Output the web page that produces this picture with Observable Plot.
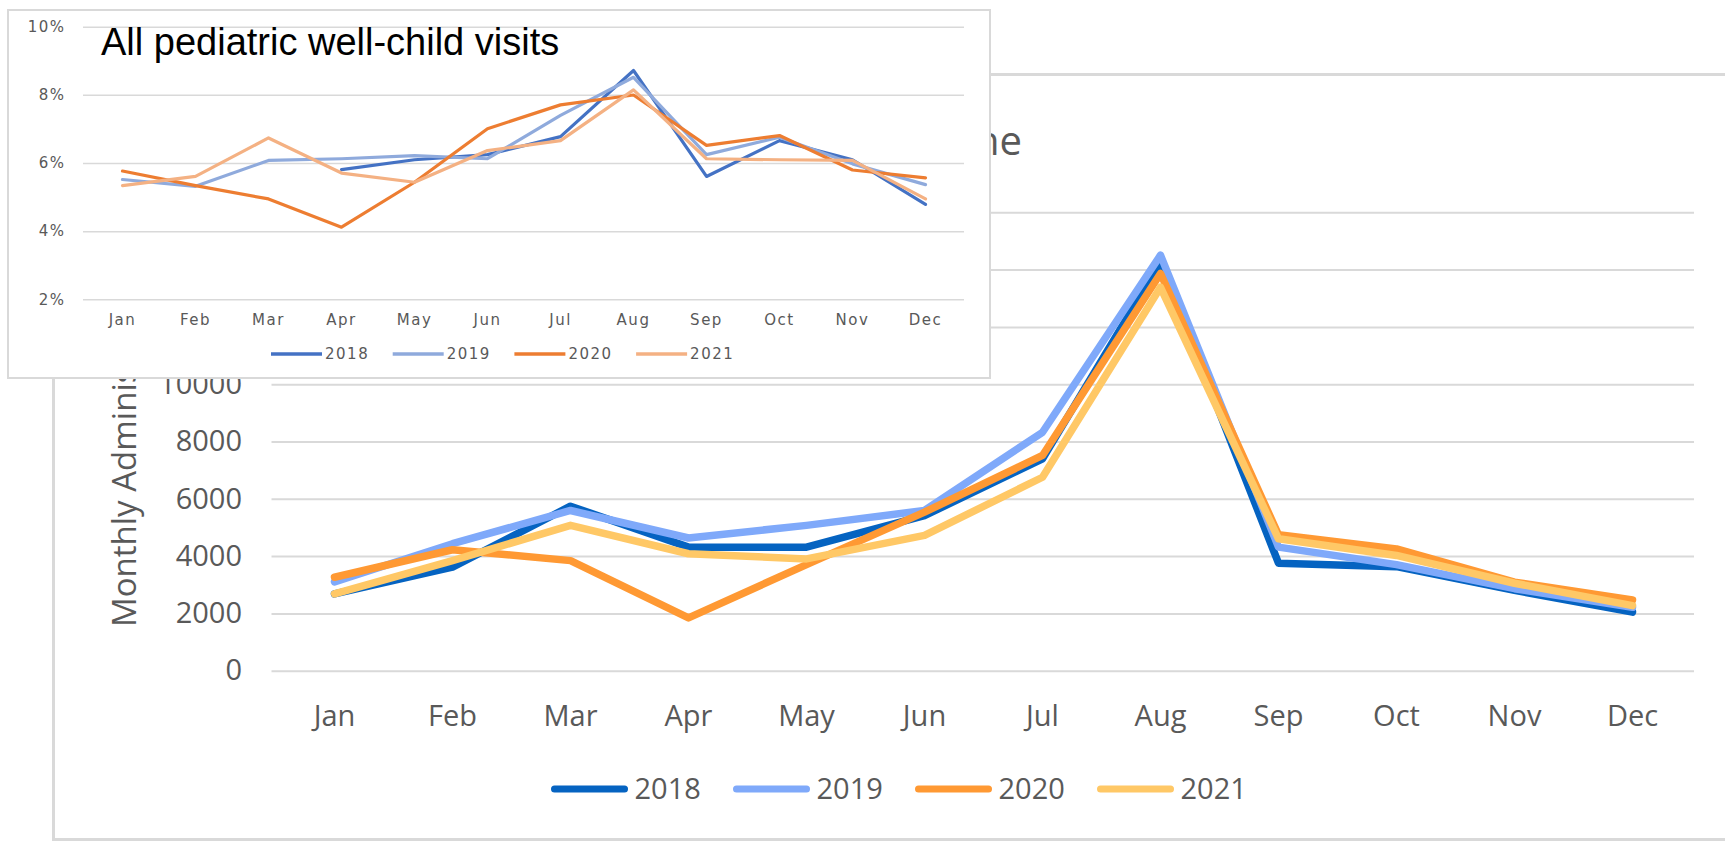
<!DOCTYPE html>
<html>
<head>
<meta charset="utf-8">
<script src="https://cdn.jsdelivr.net/npm/d3@7"></script>
<script src="https://cdn.jsdelivr.net/npm/@observablehq/plot@0.6"></script>
<style>
  html, body { margin: 0; padding: 0; background: #fff; }
  body { width: 1725px; height: 841px; position: relative; overflow: hidden; }
  .abs { position: absolute; }
</style>
</head>
<body>
<script>
// ---------- data ----------
const months = ["Jan","Feb","Mar","Apr","May","Jun","Jul","Aug","Sep","Oct","Nov","Dec"];
const years = ["2018","2019","2020","2021"];

// main chart: monthly administrations
const admin2018 = [2700, 3630, 5760, 4330, 4330, 5430, 7410, 14280, 3770, 3650, 2820, 2060];
const admin2019 = [3120, 4450, 5610, 4650, 5090, 5610, 8340, 14520, 4330, 3720, 2880, 2230];
const admin2020 = [3280, 4240, 3860, 1860, 3720, 5550, 7530, 13880, 4760, 4270, 3110, 2490];
const admin2021 = [2700, 3860, 5090, 4100, 3920, 4740, 6770, 13400, 4620, 4040, 3070, 2290];
const mainGridTicks = [0, 2000, 4000, 6000, 8000, 10000, 12000, 14000, 16000];
const mainYTickLabels = [0, 2000, 4000, 6000, 8000, 10000];
const mainTitle = "Routine Vaccine";
const mainYLabel = "Monthly Administrations";

// inset chart: share of all pediatric well-child visits (%)
const pct2018 = [null, null, null, 5.82, 6.11, 6.26, 6.79, 8.73, 5.62, 6.67, 6.11, 4.80];
const pct2019 = [5.53, 5.33, 6.09, 6.14, 6.23, 6.14, 7.41, 8.53, 6.26, 6.77, 5.99, 5.38];
const pct2020 = [5.78, 5.35, 4.96, 4.13, 5.45, 7.02, 7.72, 8.01, 6.53, 6.82, 5.81, 5.58];
const pct2021 = [5.35, 5.62, 6.75, 5.72, 5.45, 6.38, 6.67, 8.16, 6.14, 6.11, 6.09, 4.96];
const insetYTicks = [2, 4, 6, 8, 10];
const insetTitle = "All pediatric well-child visits";

const mainColors = ["#0563C1", "#7FA9FA", "#FF9933", "#FFC866"];
const insetColors = ["#4472C4", "#8FAADC", "#ED7D31", "#F4B183"];

const mainSeries = [admin2018, admin2019, admin2020, admin2021];
const insetSeries = [pct2018, pct2019, pct2020, pct2021];

const mainData = years.flatMap((yr, i) => mainSeries[i].map((v, j) => ({year: yr, month: months[j], value: v})));
const insetData = years.flatMap((yr, i) => insetSeries[i].map((v, j) => ({year: yr, month: months[j], value: v})))
  .filter(d => d.value != null);

const body = document.body;

// ---------- main chart frame ----------
const frame = document.createElement("div");
frame.className = "abs";
Object.assign(frame.style, {left: "52px", top: "73px", width: "1700px", height: "768px",
  boxSizing: "border-box", border: "3px solid #d9d9d9", background: "#fff"});
body.appendChild(frame);

// ---------- main plot ----------
const mainPlot = Plot.plot({
  width: 1673, height: 768,
  marginLeft: 219.5, marginRight: 31, marginTop: 139.3, marginBottom: 170.3,
  style: {fontFamily: "'Open Sans', sans-serif", fontSize: "29px", color: "#595959", background: "transparent", overflow: "visible"},
  x: {type: "point", domain: months, padding: 0.5},
  y: {domain: [0, 16000]},
  color: {domain: years, range: mainColors},
  marks: [
    Plot.gridY(mainGridTicks, {stroke: "#d9d9d9", strokeOpacity: 1, strokeWidth: 2}),
    Plot.axisY(mainYTickLabels, {tickSize: 0, tickPadding: 30, label: null, tickFormat: d => String(d)}),
    Plot.axisX({tickSize: 0, tickPadding: 34, label: null}),
    Plot.line(mainData, {x: "month", y: "value", z: "year", stroke: "year", strokeWidth: 7.5})
  ]
});
mainPlot.classList.add("abs");
mainPlot.style.left = "52px";
mainPlot.style.top = "73px";
body.appendChild(mainPlot);

// ---------- main overlay: title, y label, legend ----------
const ov = d3.create("svg").attr("class", "abs").attr("width", 1725).attr("height", 841)
  .style("left", "0px").style("top", "0px").style("overflow", "visible");
ov.append("text").text(mainTitle)
  .attr("x", 1022).attr("y", 155).attr("text-anchor", "end")
  .attr("font-family", "'Open Sans', sans-serif").attr("font-size", 40).attr("fill", "#595959");
ov.append("text").text(mainYLabel)
  .attr("transform", "translate(123,627) rotate(-90)")
  .attr("dominant-baseline", "central")
  .attr("font-family", "'Open Sans', sans-serif").attr("font-size", 33).attr("fill", "#595959");
const lg = ov.append("g");
years.forEach((yr, i) => {
  const x0 = 551.5 + i * 182;
  lg.append("line").attr("x1", x0 + 3).attr("x2", x0 + 73).attr("y1", 789).attr("y2", 789)
    .attr("stroke", mainColors[i]).attr("stroke-width", 7).attr("stroke-linecap", "round");
  lg.append("text").text(yr).attr("x", x0 + 83).attr("y", 789).attr("dy", "0.36em")
    .attr("font-family", "'Open Sans', sans-serif").attr("font-size", 29).attr("fill", "#595959");
});
body.appendChild(ov.node());

// ---------- inset ----------
const insetBox = document.createElement("div");
insetBox.className = "abs";
Object.assign(insetBox.style, {left: "7px", top: "9px", width: "984px", height: "370px",
  boxSizing: "border-box", border: "2px solid #d9d9d9", background: "#fff"});
body.appendChild(insetBox);

const insetPlot = Plot.plot({
  width: 984, height: 370,
  marginLeft: 76, marginRight: 27, marginTop: 17.7, marginBottom: 79.7,
  style: {fontFamily: "'DejaVu Sans', sans-serif", fontSize: "15px", color: "#595959", background: "transparent", overflow: "visible"},
  x: {type: "point", domain: months, padding: 0.5},
  y: {domain: [2, 10]},
  color: {domain: years, range: insetColors},
  marks: [
    Plot.gridY(insetYTicks, {stroke: "#d9d9d9", strokeOpacity: 1, strokeWidth: 1.5}),
    Plot.axisY(insetYTicks, {tickSize: 0, tickPadding: 18, label: null, tickFormat: d => d + "%"}),
    Plot.axisX({tickSize: 0, tickPadding: 15, label: null}),
    Plot.line(insetData, {x: "month", y: "value", z: "year", stroke: "year", strokeWidth: 3.2})
  ]
});
insetPlot.classList.add("abs");
insetPlot.style.left = "7px";
insetPlot.style.top = "9px";
insetPlot.style.letterSpacing = "1.5px";
body.appendChild(insetPlot);

const iov = d3.create("svg").attr("class", "abs").attr("width", 1000).attr("height", 400)
  .style("left", "0px").style("top", "0px").style("overflow", "visible");
iov.append("text").text(insetTitle)
  .attr("x", 101).attr("y", 55)
  .attr("font-family", "'Liberation Sans', Arial, sans-serif").attr("font-size", 38).attr("fill", "#000");
years.forEach((yr, i) => {
  const x0 = 271 + i * 121.7;
  iov.append("line").attr("x1", x0).attr("x2", x0 + 51).attr("y1", 354).attr("y2", 354)
    .attr("stroke", insetColors[i]).attr("stroke-width", 3.5);
  iov.append("text").text(yr).attr("x", x0 + 54).attr("y", 354).attr("dy", "0.36em")
    .attr("font-family", "'DejaVu Sans', sans-serif").attr("font-size", 15)
    .attr("letter-spacing", "1.5px").attr("fill", "#595959");
});
body.appendChild(iov.node());
</script>
</body>
</html>
